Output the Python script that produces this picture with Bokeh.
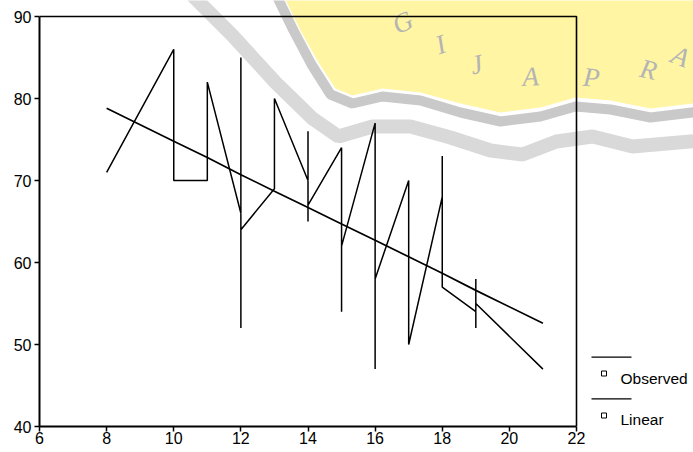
from bokeh.plotting import figure
from bokeh.models import Range1d, FixedTicker
from bokeh.core.properties import value
from bokeh.embed import file_html
from bokeh.resources import INLINE

# ---------------- data ----------------
obs_x = [8, 10, 10, 11, 11, 12, 12, 12, 12, 13, 13, 14, 14, 14, 14, 15, 15, 15,
         16, 16, 16, 17, 17, 18, 18, 18, 19, 19, 19, 19, 21]
obs_y = [71, 86, 70, 70, 82, 66, 85, 52, 64, 69, 80, 70, 76, 65, 67, 74, 54, 62,
         77, 47, 58, 70, 50, 68, 73, 57, 54, 58, 52, 55, 47]

lin_x = [8, 10, 11, 12, 13, 14, 15, 16, 17, 18, 19, 21]
lin_y = [78.8, 74.8, 72.8, 70.7, 68.7, 66.7, 64.7, 62.7, 60.7, 58.7, 56.6, 52.6]

x_ticks = [6, 8, 10, 12, 14, 16, 18, 20, 22]
y_ticks = [40, 50, 60, 70, 80, 90]
legend_labels = ["Observed", "Linear"]
watermark_letters = ["G", "I", "J", "A", "P", "R", "A"]

# ---------------- layout constants ----------------
W, H = 693, 452
PX_X0, PX_X1 = 39, 576          # pixel of x=6 and x=22
PX_Y0, PX_Y1 = 426, 16          # pixel of y=40 and y=90
LEFT, BOTTOM = PX_X0, H - PX_Y0
X0, X1, Y0, Y1 = 6, 22, 40, 90  # axis extents
sx = (PX_X1 - PX_X0) / (X1 - X0)
sy = (PX_Y0 - PX_Y1) / (Y1 - Y0)
x_end = X0 + (W - LEFT) / sx
y_end = Y0 + PX_Y0 / sy


def dx(px):
    return X0 + (px - PX_X0) / sx


def dy(py):
    return Y0 + (PX_Y0 - py) / sy


p = figure(width=W, height=H, output_backend="svg", toolbar_location=None,
           x_range=Range1d(X0, x_end), y_range=Range1d(Y0, y_end),
           min_border_left=LEFT, min_border_right=0, min_border_top=0,
           min_border_bottom=BOTTOM, title=None)
p.outline_line_color = None
p.grid.visible = False
p.background_fill_color = "white"
p.border_fill_color = "white"

for ax, ticks, bounds in ((p.xaxis[0], x_ticks, (X0, X1)), (p.yaxis[0], y_ticks, (Y0, Y1))):
    ax.ticker = FixedTicker(ticks=ticks)
    ax.bounds = bounds
    ax.axis_line_width = 2
    ax.axis_line_color = "black"
    ax.major_tick_line_color = "black"
    ax.major_tick_line_width = 1.5
    ax.major_tick_out = 5
    ax.major_tick_in = 0
    ax.minor_tick_line_color = None
    ax.major_label_text_font = "Liberation Sans"
    ax.major_label_text_font_size = "16px"
    ax.major_label_text_color = "black"
p.xaxis[0].major_label_standoff = 0
p.yaxis[0].major_label_standoff = 3

# ---------------- watermark (underlay) ----------------
yellow_px = [(283, -5), (300, 30), (318, 62), (335, 88), (352, 95), (382, 88), (420, 92),
             (460, 103), (500, 112), (540, 107), (575, 97), (610, 100), (650, 108),
             (700, 102), (700, -5)]
p.patch([dx(a) for a, b in yellow_px], [dy(b) for a, b in yellow_px],
        fill_color="#fff5a3", line_color=None)
inner_px = [(276, -5), (293, 30), (311, 64), (330, 94), (352, 103), (382, 96), (420, 100),
            (460, 112), (500, 121), (540, 116), (575, 106), (610, 109), (650, 117), (700, 111)]
p.line([dx(a) for a, b in inner_px], [dy(b) for a, b in inner_px],
       line_color="#c9c9c9", line_width=10)
outer_px = [(192, -5), (232, 35), (275, 82), (312, 118), (338, 136), (372, 126), (410, 126),
            (450, 137), (490, 150), (522, 154), (556, 141), (592, 136), (632, 146), (700, 140)]
p.line([dx(a) for a, b in outer_px], [dy(b) for a, b in outer_px],
       line_color="#d9d9d9", line_width=14)
letters_px = [(402, 22, 0.45), (440, 44, 0.33), (476, 64, 0.22), (530, 76, 0.05),
              (591, 77, -0.08), (648, 69, -0.22), (680, 56, -0.38)]
p.text(x=[dx(a) for a, b, c in letters_px], y=[dy(b) for a, b, c in letters_px],
       text=watermark_letters, angle=[c for a, b, c in letters_px],
       text_font=value("Liberation Serif"), text_font_style="italic",
       text_font_size=value("27px"), text_color="#b4b4b4",
       text_align="center", text_baseline="middle")

# ---------------- frame borders (top / right) ----------------
p.line([X0, X1, X1], [Y1, Y1, Y0], line_color="black", line_width=1.6)

# ---------------- series ----------------
p.line(obs_x, obs_y, line_color="black", line_width=1.5)
p.line(lin_x, lin_y, line_color="black", line_width=1.7)

# ---------------- legend (drawn right of the axes box) ----------------
leg_line_y = [356.7, 398.3]
leg_sq_y = [373, 415]
leg_txt_y = [377.5, 418.5]
p.segment(x0=[dx(591)] * 2, x1=[dx(631)] * 2, y0=[dy(v) for v in leg_line_y],
          y1=[dy(v) for v in leg_line_y], line_color="black", line_width=1.3)
p.scatter(x=[dx(603.5)] * 2, y=[dy(v) for v in leg_sq_y], marker="square", size=5,
          fill_color="white", line_color="black", line_width=1)
p.text(x=[dx(620)] * 2, y=[dy(v) for v in leg_txt_y], text=legend_labels,
       text_font=value("Liberation Sans"), text_font_size=value("15.5px"),
       text_color="black", text_align="left", text_baseline="middle")

open("out.html", "w").write(file_html(p, INLINE))
